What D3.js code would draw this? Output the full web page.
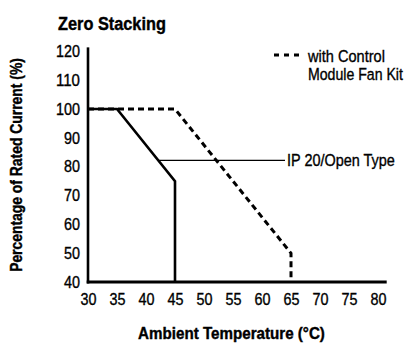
<!DOCTYPE html>
<html>
<head>
<meta charset="utf-8">
<script src="https://cdn.jsdelivr.net/npm/d3@7"></script>
<style>
  html, body { margin: 0; padding: 0; background: #fff; }
  svg { display: block; }
  text { font-family: "Liberation Sans", Arial, sans-serif; fill: #000; }
  .med { stroke: #000; stroke-width: 0.35px; }
  .heavy { stroke: #000; stroke-width: 0.4px; }
</style>
</head>
<body>
<svg id="chart" width="406" height="345"></svg>
<script>
// Derating curves: percentage of rated current vs ambient temperature
const xTicks = [30, 35, 40, 45, 50, 55, 60, 65, 70, 75, 80];
const yTicks = [40, 50, 60, 70, 80, 90, 100, 110, 120];

const openTypeTemp    = [30, 35, 45, 45];
const openTypeCurrent = [100, 100, 75, 40];

const fanKitTemp    = [30, 45, 65, 65];
const fanKitCurrent = [100, 100, 50, 40];

const titleText = "Zero Stacking";
const xLabel = "Ambient Temperature (°C)";
const yLabel = "Percentage of Rated Current (%)";
const fanKitLabel = ["with Control", "Module Fan Kit"];
const openTypeLabel = "IP 20/Open Type";
const leaderAt = 82.2; // current level where the open-type callout meets its curve

const svg = d3.select("#chart");

const x = d3.scaleLinear().domain([30, 81.5]).range([88, 386.7]);
const y = d3.scaleLinear().domain([40, 120]).range([282, 51.4]);

// narrow a text horizontally to a given width (condensed look)
function condense(node, width, prefix) {
  const sel = d3.select(node);
  const natural = node.getComputedTextLength();
  const s = width / natural;
  const x0 = +sel.attr("x") || 0;
  sel.attr("x", 0)
     .attr("transform", `${prefix || ""} translate(${x0},0) scale(${s},1)`);
}

// title
svg.append("text")
  .attr("x", 58).attr("y", 30)
  .attr("font-size", 18.5).attr("font-weight", "bold")
  .attr("class", "heavy")
  .text(titleText)
  .each(function() { condense(this, 108); });

// axes lines
svg.append("line")
  .attr("x1", x(30)).attr("x2", x(30))
  .attr("y1", y(40) + 1.5).attr("y2", y(121.4))
  .attr("stroke", "#000").attr("stroke-width", 2.6);
svg.append("line")
  .attr("x1", x(30) - 1.3).attr("x2", x(81.5))
  .attr("y1", y(40)).attr("y2", y(40))
  .attr("stroke", "#000").attr("stroke-width", 3);

// tick labels
const tickWidth = d => String(d).length * 8;

const yAxis = d3.axisLeft(y).tickValues(yTicks).tickSize(0).tickPadding(8);
const gy = svg.append("g").attr("transform", `translate(${x(30)},0)`).call(yAxis);
gy.select(".domain").remove();
gy.selectAll("text")
  .attr("font-size", 16.5)
  .attr("font-family", "Liberation Sans, Arial, sans-serif")
  .attr("fill", "#000")
  .attr("class", "med")
  .each(function(d) { condense(this, tickWidth(d)); });

const xAxis = d3.axisBottom(x).tickValues(xTicks).tickSize(0).tickPadding(11);
const gx = svg.append("g").attr("transform", `translate(0,${y(40)})`).call(xAxis);
gx.select(".domain").remove();
gx.selectAll("text")
  .attr("font-size", 16.5)
  .attr("font-family", "Liberation Sans, Arial, sans-serif")
  .attr("fill", "#000")
  .attr("class", "med")
  .each(function(d) { condense(this, tickWidth(d)); });

// axis titles
svg.append("text")
  .attr("x", 231.5).attr("y", 339)
  .attr("text-anchor", "middle")
  .attr("font-size", 16.5).attr("font-weight", "bold")
  .attr("class", "heavy")
  .text(xLabel)
  .each(function() { condense(this, 187); });

svg.append("text")
  .attr("y", 0)
  .attr("text-anchor", "middle")
  .attr("font-size", 16).attr("font-weight", "bold")
  .attr("class", "heavy")
  .text(yLabel)
  .each(function() { condense(this, 214, "translate(22,165) rotate(-90)"); });

const line = d3.line().x(d => x(d[0])).y(d => y(d[1]));

// fan kit curve (dashed)
svg.append("path")
  .datum(d3.zip(fanKitTemp, fanKitCurrent))
  .attr("d", line)
  .attr("fill", "none").attr("stroke", "#000")
  .attr("stroke-width", 3).attr("stroke-dasharray", "6,4");

// open type curve (solid)
svg.append("path")
  .datum(d3.zip(openTypeTemp, openTypeCurrent))
  .attr("d", line)
  .attr("fill", "none").attr("stroke", "#000")
  .attr("stroke-width", 2.6).attr("stroke-linejoin", "miter");

// open type callout
const leaderTemp = 35 + (100 - leaderAt) / 25 * 10;
svg.append("line")
  .attr("x1", x(leaderTemp)).attr("x2", 285)
  .attr("y1", y(leaderAt)).attr("y2", y(leaderAt))
  .attr("stroke", "#000").attr("stroke-width", 1.3);
svg.append("text")
  .attr("x", 287).attr("y", y(leaderAt) + 6)
  .attr("font-size", 16.5)
  .attr("class", "med")
  .text(openTypeLabel)
  .each(function() { condense(this, 108); });

// fan kit legend
svg.append("line")
  .attr("x1", 274).attr("x2", 301)
  .attr("y1", 55).attr("y2", 55)
  .attr("stroke", "#000").attr("stroke-width", 3).attr("stroke-dasharray", "5,5");
svg.selectAll(".fan-label")
  .data(fanKitLabel)
  .join("text")
  .attr("class", "fan-label med")
  .attr("x", 308).attr("y", (d, i) => 62 + i * 18)
  .attr("font-size", 16.5)
  .text(d => d)
  .each(function(d, i) { condense(this, i === 0 ? 77 : 95); });
</script>
</body>
</html>
